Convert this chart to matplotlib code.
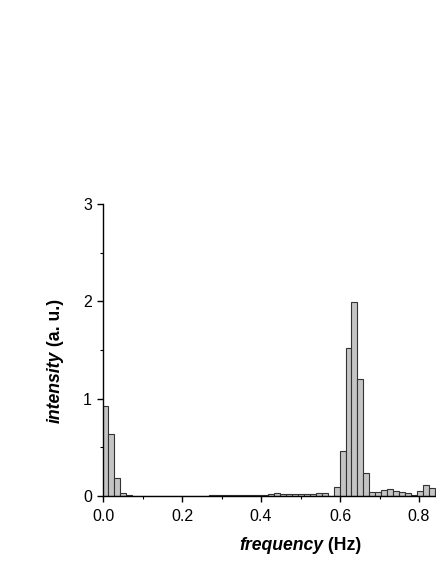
import numpy as np
import matplotlib
matplotlib.use("Agg")
import matplotlib.pyplot as plt
from matplotlib.ticker import MultipleLocator

plt.rcParams['font.family'] = ['Liberation Sans', 'DejaVu Sans']

# histogram bins (Hz): left edge of first bin and bin width
bin_start = -0.003
bin_width = 0.01505

# intensity of each bin (a. u.)
intensity = [
    0.92, 0.64, 0.18, 0.03, 0.01,
    0.005, 0.005, 0.005, 0.005, 0.005,
    0.004, 0.004, 0.004, 0.004, 0.004, 0.004, 0.005, 0.005, 0.006, 0.006,
    0.008, 0.008, 0.01, 0.01, 0.008, 0.01, 0.012, 0.01,
    0.02, 0.03, 0.02, 0.025, 0.02, 0.02, 0.025, 0.02, 0.03, 0.03,
    0.0, 0.09, 0.46, 1.525, 1.99, 1.207, 0.24,
    0.045, 0.04, 0.06, 0.07, 0.05, 0.04, 0.03, 0.01,
    0.055, 0.115, 0.08, 0.05,
]

x_ticks = [0.0, 0.2, 0.4, 0.6, 0.8]
y_ticks = [0, 1, 2, 3]

edges = bin_start + bin_width * np.arange(len(intensity))

fig = plt.figure(figsize=(4.36, 5.64), dpi=100)
ax = fig.add_axes([103 / 436, 68 / 564, 333 / 436, 292 / 564])

ax.bar(edges, intensity, width=bin_width, align='edge',
       color='#c4c4c4', edgecolor='#333333', linewidth=0.8, clip_on=True)

ax.set_xlim(0, 333 / 395)
ax.set_ylim(0, 3)
ax.set_xticks(x_ticks)
ax.set_xticklabels([f'{v:.1f}' for v in x_ticks])
ax.set_yticks(y_ticks)
ax.xaxis.set_minor_locator(MultipleLocator(0.1))
ax.yaxis.set_minor_locator(MultipleLocator(0.5))

for s in ('top', 'right'):
    ax.spines[s].set_visible(False)
for s in ('left', 'bottom'):
    ax.spines[s].set_linewidth(1.0)

ax.tick_params(which='major', direction='out', length=4.5, width=1.0,
               labelsize=11.5)
ax.tick_params(axis='x', which='major', pad=5)
ax.tick_params(axis='y', which='major', pad=3.5)
ax.tick_params(which='minor', direction='out', length=2.5, width=0.8)

# axis labels: italic bold word followed by bold unit
fig.canvas.draw()
r = fig.canvas.get_renderer()

def two_part(x, y, a, b, rotation=0):
    kw = dict(fontsize=12.7, fontweight='bold', rotation=rotation,
              transform=None, rotation_mode='anchor')
    t1 = fig.text(0, 0, a, fontstyle='italic', ha='left', va='center', **kw)
    t2 = fig.text(0, 0, b, ha='left', va='center', **kw)
    w1 = t1.get_window_extent(r)
    w2 = t2.get_window_extent(r)
    if rotation == 0:
        l1, l2 = w1.width, w2.width
        total = l1 + l2
        t1.set_position((x - total / 2, y))
        t2.set_position((x - total / 2 + l1, y))
    else:
        l1, l2 = w1.height, w2.height
        total = l1 + l2
        t1.set_position((x, y - total / 2))
        t2.set_position((x, y - total / 2 + l1))

H = 564
two_part(300, H - 546, 'frequency', ' (Hz)')
two_part(55, H - 361, 'intensity', ' (a. u.)', rotation=90)

fig.savefig('out.png', dpi=100)
